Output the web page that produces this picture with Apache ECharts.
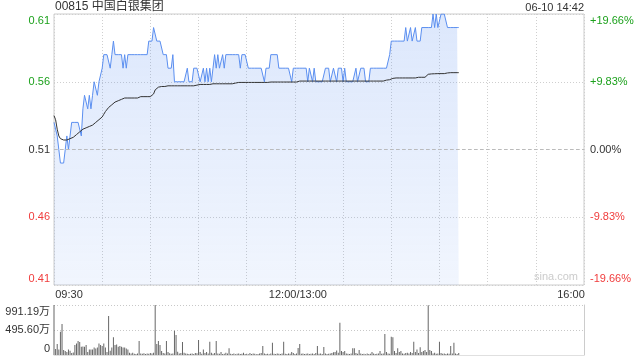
<!DOCTYPE html>
<html><head><meta charset="utf-8">
<script src="https://cdn.jsdelivr.net/npm/echarts@6/dist/echarts.min.js"></script>
<style>html,body{margin:0;padding:0;background:#fff}#c{width:640px;height:360px}</style>
</head><body><div id="c"></div>
<script>
const titleText = '00815 中国白银集团';
const stampText = '06-10 14:42';
const xTickLabels = {0: '09:30', 150: '12:00/13:00', 330: '16:00'};
const priceTicks = ['0.41', '0.46', '0.51', '0.56', '0.61'];
const pctTicks = ['-19.66%', '-9.83%', '0.00%', '+9.83%', '+19.66%'];
const volTicks = ['0', '495.60万', '991.19万'];
const prevClose = 0.51;
const volMax = 991.19;

// minute-by-minute price from 09:30 (index 0) to 14:42 (index 252)
const price = [
0.53,0.53,0.52,0.51,0.50,0.50,0.50,0.51,0.52,0.51,
0.52,0.53,0.53,0.53,0.53,0.53,0.53,0.52,0.54,0.55,
0.55,0.54,0.55,0.54,0.55,0.56,0.56,0.55,0.56,0.56,
0.57,0.58,0.58,0.58,0.58,0.57,0.58,0.59,0.58,0.58,
0.58,0.58,0.58,0.57,0.58,0.57,0.58,0.58,0.58,0.58,
0.58,0.58,0.58,0.58,0.58,0.58,0.58,0.58,0.58,0.59,
0.59,0.59,0.60,0.60,0.59,0.59,0.59,0.59,0.58,0.58,
0.58,0.57,0.57,0.57,0.58,0.56,0.56,0.56,0.56,0.56,
0.56,0.56,0.56,0.57,0.56,0.56,0.56,0.57,0.57,0.57,
0.57,0.56,0.56,0.57,0.56,0.57,0.56,0.57,0.56,0.57,
0.58,0.57,0.58,0.57,0.57,0.58,0.57,0.58,0.58,0.58,
0.58,0.58,0.58,0.58,0.58,0.58,0.57,0.58,0.58,0.58,
0.58,0.57,0.57,0.57,0.57,0.57,0.57,0.57,0.57,0.57,
0.57,0.56,0.57,0.57,0.57,0.58,0.58,0.58,0.58,0.58,
0.57,0.57,0.57,0.57,0.57,0.57,0.57,0.57,0.56,0.57,
0.57,0.57,0.57,0.57,0.57,0.57,0.57,0.57,0.56,0.57,
0.57,0.56,0.57,0.56,0.56,0.56,0.56,0.56,0.56,0.57,
0.57,0.57,0.56,0.56,0.57,0.57,0.56,0.57,0.57,0.57,
0.56,0.57,0.56,0.56,0.56,0.56,0.56,0.56,0.57,0.56,
0.56,0.57,0.57,0.57,0.56,0.56,0.56,0.57,0.57,0.57,
0.57,0.57,0.57,0.57,0.57,0.57,0.57,0.57,0.57,0.58,
0.59,0.59,0.59,0.59,0.59,0.59,0.59,0.59,0.59,0.60,
0.59,0.59,0.60,0.59,0.59,0.60,0.59,0.59,0.59,0.60,
0.60,0.60,0.60,0.60,0.60,0.60,0.61,0.60,0.61,0.60,
0.60,0.61,0.61,0.61,0.61,0.60,0.60,0.60,0.60,0.60,
0.60,0.60,0.60
];

// running average price
const avgPrice = [
0.535,0.532,0.525,0.520,0.518,0.517,0.517,0.517,0.517,0.517,
0.518,0.518,0.519,0.520,0.521,0.522,0.523,0.524,0.525,0.526,
0.526,0.527,0.527,0.527,0.528,0.529,0.530,0.531,0.532,0.533,
0.534,0.536,0.538,0.539,0.541,0.542,0.543,0.544,0.545,0.546,
0.546,0.547,0.547,0.548,0.548,0.548,0.548,0.548,0.548,0.548,
0.548,0.548,0.548,0.549,0.549,0.549,0.549,0.549,0.549,0.549,
0.549,0.550,0.551,0.554,0.555,0.556,0.5565,0.5565,0.5565,0.5565,
0.557,0.557,0.557,0.557,0.557,0.557,0.557,0.557,0.557,0.557,
0.557,0.557,0.557,0.557,0.557,0.557,0.557,0.557,0.5575,0.5575,
0.558,0.558,0.558,0.558,0.558,0.558,0.558,0.558,0.5585,0.5585,
0.5585,0.5585,0.5585,0.5585,0.5585,0.5585,0.5585,0.5585,0.5585,0.5585,
0.5585,0.5585,0.5585,0.559,0.5595,0.5595,0.5595,0.5595,0.5595,0.5595,
0.5595,0.5595,0.5595,0.5595,0.5595,0.5595,0.5595,0.5595,0.5595,0.5595,
0.5595,0.5595,0.5595,0.5595,0.5595,0.5598,0.5598,0.5598,0.5598,0.5598,
0.5598,0.5598,0.5598,0.5598,0.5598,0.5598,0.5598,0.5598,0.5598,0.5598,
0.5598,0.5598,0.5598,0.5605,0.5605,0.5605,0.5605,0.5605,0.5605,0.5605,
0.5605,0.5605,0.5605,0.5605,0.5605,0.5605,0.5605,0.5605,0.5605,0.5605,
0.5605,0.5605,0.5605,0.5605,0.5605,0.5605,0.5605,0.5605,0.5605,0.5605,
0.5605,0.5605,0.5605,0.5605,0.5605,0.5605,0.5605,0.5605,0.5605,0.5605,
0.5605,0.5605,0.5605,0.5605,0.5605,0.5605,0.5605,0.5605,0.5605,0.5605,
0.5605,0.5605,0.5605,0.5605,0.5605,0.5605,0.5605,0.5612,0.5615,0.5615,
0.562,0.5625,0.5628,0.5628,0.5628,0.5628,0.5628,0.5628,0.5628,0.5628,
0.5628,0.5628,0.5628,0.5628,0.5628,0.5628,0.5628,0.5633,0.5633,0.5633,
0.5633,0.5633,0.5633,0.5655,0.5657,0.5658,0.5659,0.5659,0.566,0.566,
0.566,0.566,0.566,0.566,0.566,0.5665,0.5666,0.5667,0.5667,0.5667,
0.5667,0.5667,0.5667
];

// per-minute volume (万)
const volume = [
991,120,218,110,463,615,100,80,60,110,
85,40,50,198,230,277,260,165,170,165,
198,60,110,110,110,150,130,150,230,198,
180,230,150,60,773,85,150,350,198,210,
165,180,165,150,150,130,110,45,30,45,
25,20,30,277,30,25,35,20,30,25,
40,30,45,991.19,218,277,198,80,40,30,
277,60,35,25,30,482,396,65,30,40,
260,45,30,25,20,25,30,20,40,35,
297,60,25,110,40,60,30,264,45,25,
40,277,30,25,60,20,25,45,30,132,
25,20,30,15,25,30,20,25,45,20,
25,15,40,20,30,25,15,20,30,40,
178,30,20,25,15,30,244,25,20,30,
25,20,30,264,25,20,30,25,60,40,
20,30,140,218,25,30,20,25,30,20,
25,30,20,40,178,25,30,20,160,30,
20,25,30,40,55,60,90,45,641,80,
60,80,30,25,20,30,132,132,40,25,
100,30,20,25,15,30,20,25,60,30,
20,25,30,80,25,30,416,60,30,25,
363,350,80,40,132,60,80,30,25,40,
45,30,60,40,264,60,110,40,152,60,
80,100,60,985,100,80,30,45,25,30,
264,40,25,30,20,30,25,178,30,244,
30,20,40
];

const FONT = "Arial, 'Liberation Sans', 'Noto Sans CJK SC', sans-serif";
const GREEN = '#1ca11c', RED = '#f03c3c', DARK = '#333';
const toY = p => (p - prevClose) * 100;

const priceData = price.map((p, i) => [i, toY(p)]);
const avgData = avgPrice.map((p, i) => [i, toY(p)]);
const volData = volume.map((v, i) => [i, v]);

const richSet = {
  gT: {color: GREEN, padding: [13, 0, 0, 0]},
  g: {color: GREEN},
  k: {color: DARK},
  r: {color: RED},
  rB: {color: RED, padding: [0, 0, 13, 0]},
  kT: {color: DARK, padding: [13, 0, 0, 0]},
  kB: {color: DARK, padding: [0, 0, 13, 0]},
  xl: {color: DARK, padding: [0, 0, 0, 30]},
  xm: {color: DARK, padding: [0, 0, 0, 6]},
  xr: {color: DARK, padding: [0, 26, 0, 0]}
};
const priceStyle = ['rB', 'r', 'k', 'g', 'gT'];

const chart = echarts.init(document.getElementById('c'), null, {renderer: 'canvas'});
chart.setOption({
  animation: false,
  textStyle: {fontFamily: FONT},
  title: [
    {text: titleText, left: 55, top: 0, padding: 0,
     textStyle: {fontSize: 12, fontWeight: 'normal', color: DARK, fontFamily: FONT, lineHeight: 14}},
    {text: stampText, right: 56, top: 1, padding: 0,
     textStyle: {fontSize: 11, fontWeight: 'normal', color: DARK, fontFamily: FONT, lineHeight: 13}}
  ],
  graphic: [{
    type: 'text', right: 62, top: 271, silent: true,
    style: {text: 'sina.com', fill: '#cccccc', font: '11px ' + FONT}
  }],
  grid: [
    {left: 54, top: 14, width: 530, height: 271, show: true, borderColor: '#cccccc', borderWidth: 1, backgroundColor: 'transparent'},
    {left: 54, top: 305, width: 530, height: 50}
  ],
  xAxis: [
    {type: 'value', gridIndex: 0, min: 0, max: 330, interval: 30,
     axisLine: {show: false}, axisTick: {show: false},
     splitLine: {show: true, lineStyle: {type: [1, 2], color: '#cfcfcf'}},
     axisLabel: {margin: 4, fontSize: 11, fontFamily: FONT, rich: richSet,
       formatter: v => v === 0 ? '{xl|' + xTickLabels[0] + '}' : v === 150 ? '{xm|' + xTickLabels[150] + '}' : v === 330 ? '{xr|' + xTickLabels[330] + '}' : ''}},
    {type: 'value', gridIndex: 1, min: 0, max: 330, interval: 30,
     axisLine: {show: true, lineStyle: {color: '#e0e0e0'}}, axisTick: {show: false},
     splitLine: {show: false}, axisLabel: {show: false}}
  ],
  yAxis: [
    {type: 'value', gridIndex: 0, position: 'left', min: -10, max: 10, interval: 5,
     axisLine: {show: false}, axisTick: {show: false},
     splitLine: {show: true, lineStyle: {type: [1, 2], color: '#cfcfcf'}},
     axisLabel: {margin: 4, fontSize: 11, fontFamily: FONT, rich: richSet,
       formatter: v => { const i = Math.round((v + 10) / 5); return '{' + priceStyle[i] + '|' + priceTicks[i] + '}'; }}},
    {type: 'value', gridIndex: 0, position: 'right', min: -10, max: 10, interval: 5,
     axisLine: {show: false}, axisTick: {show: false}, splitLine: {show: false},
     axisLabel: {margin: 6, fontSize: 11, fontFamily: FONT, rich: richSet,
       formatter: v => { const i = Math.round((v + 10) / 5); return '{' + priceStyle[i] + '|' + pctTicks[i] + '}'; }}},
    {type: 'value', gridIndex: 1, position: 'left', min: 0, max: volMax, interval: volMax / 2,
     axisLine: {show: false}, axisTick: {show: false},
     splitLine: {show: true, lineStyle: {type: [1, 2], color: '#c8c8c8'}},
     axisLabel: {margin: 4, fontSize: 11, fontFamily: FONT, rich: richSet,
       formatter: v => { const i = Math.round(v / (volMax / 2)); return '{' + ['kB', 'k', 'kT'][i] + '|' + volTicks[i] + '}'; }}},
    {type: 'value', gridIndex: 1, position: 'right', min: 0, max: volMax, interval: volMax / 2,
     axisLine: {show: true, lineStyle: {color: '#cccccc'}}, axisTick: {show: false},
     splitLine: {show: false}, axisLabel: {show: false}}
  ],
  series: [
    {type: 'line', xAxisIndex: 0, yAxisIndex: 0, data: priceData, symbol: 'none',
     lineStyle: {color: '#5b8ff0', width: 1},
     areaStyle: {origin: 'start', color: new echarts.graphic.LinearGradient(0, 0, 0, 1, [
       {offset: 0, color: 'rgba(91,143,240,0.30)'},
       {offset: 1, color: 'rgba(91,143,240,0.12)'}])},
     markLine: {silent: true, symbol: 'none', label: {show: false},
       lineStyle: {type: [3, 3], color: '#bbbbbb', width: 1}, data: [{yAxis: 0}]},
     z: 2},
    {type: 'line', xAxisIndex: 0, yAxisIndex: 0, data: avgData, symbol: 'none',
     lineStyle: {color: '#333333', width: 1}, z: 3},
    {type: 'bar', xAxisIndex: 1, yAxisIndex: 2, data: volData, barWidth: 1,
     itemStyle: {color: '#666666'}}
  ]
});
</script>
</body></html>
